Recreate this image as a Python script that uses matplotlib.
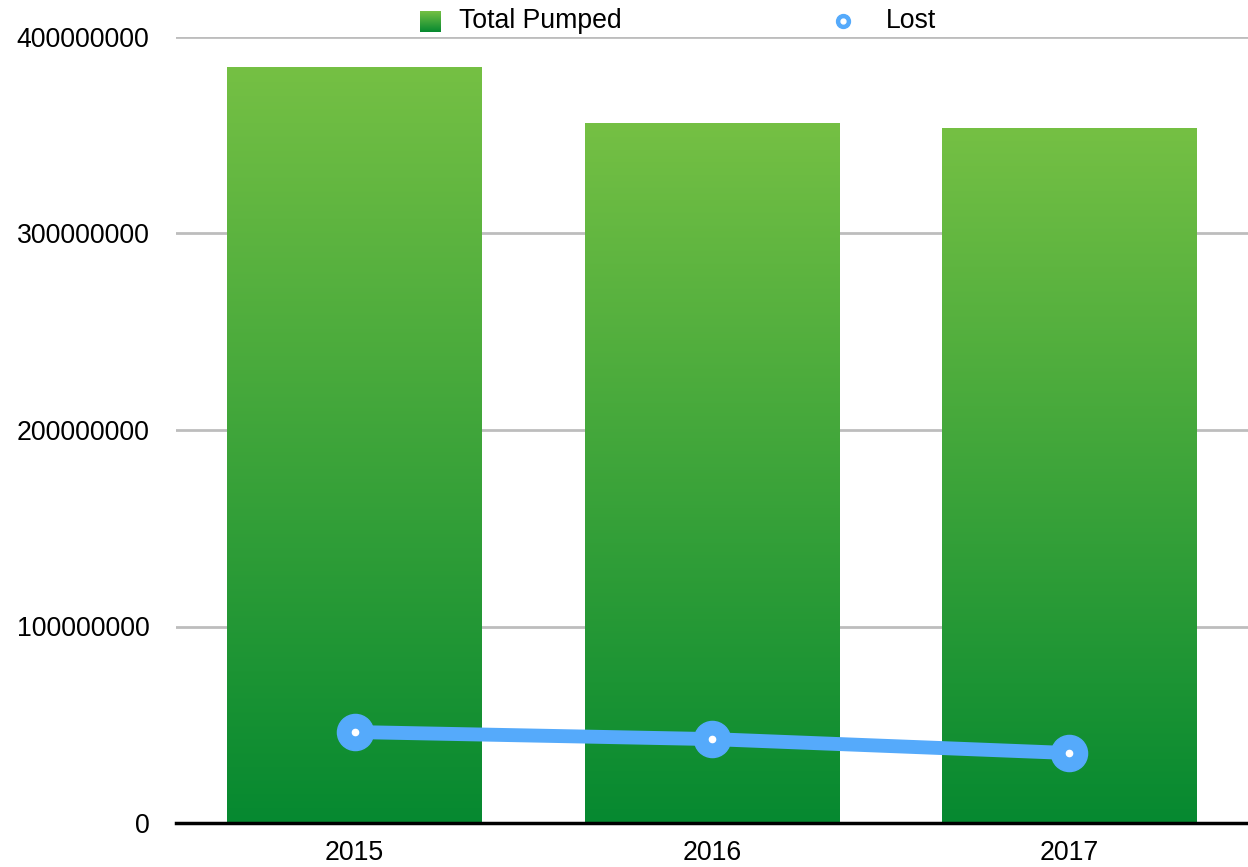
import matplotlib
matplotlib.use("Agg")
import matplotlib.pyplot as plt
import numpy as np
from matplotlib.colors import LinearSegmentedColormap
from matplotlib.lines import Line2D

years = ["2015", "2016", "2017"]
total_pumped = [384700000, 356200000, 353700000]
lost = [46300000, 42700000, 35600000]
yticks = [0, 100000000, 200000000, 300000000, 400000000]

plt.rcParams['font.family'] = ['Liberation Sans', 'DejaVu Sans']

fig = plt.figure(figsize=(12.48, 8.67), dpi=100)
ax = fig.add_axes([176/1248, 44/867, 1 - 176/1248, (823-37)/867])

x = np.arange(len(years))
bars = ax.bar(x, total_pumped, width=0.713, color='none', zorder=2)

cmap = LinearSegmentedColormap.from_list('g', ['#068930', '#75C044'])
grad = np.linspace(0, 1, 256).reshape(-1, 1)
for b in bars:
    bx, by = b.get_x(), b.get_y()
    w, h = b.get_width(), b.get_height()
    im = ax.imshow(grad, cmap=cmap, origin='lower', aspect='auto',
                   extent=[bx, bx + w, by, by + h], zorder=2, interpolation='bilinear')
    im.set_clip_path(b)

ax.plot(x, lost, color='#55AAFB', lw=10, zorder=3, solid_capstyle='round')
ax.plot(x, lost, 'o', ms=26, color='#55AAFB', zorder=4)
ax.plot(x, lost, 'o', ms=4.5, color='white', zorder=5)

ax.set_xlim(-0.5, 2.5)
ax.set_ylim(0, 400000000)
ax.set_yticks(yticks)
ax.set_yticklabels([str(v) for v in yticks], fontsize=19.2)
ax.set_xticks(x)
ax.set_xticklabels(years, fontsize=19.2)
ax.tick_params(axis='both', length=0)
ax.tick_params(axis='y', pad=19)
ax.tick_params(axis='x', pad=12)
ax.yaxis.grid(True, color='#BDBDBD', lw=2)
ax.set_axisbelow(True)
for s in ['top', 'right', 'left']:
    ax.spines[s].set_visible(False)
ax.spines['bottom'].set_linewidth(2.5)
ax.spines['bottom'].set_color('black')
ax.spines['bottom'].set_zorder(6)

# legend
lax = fig.add_axes([420/1248, 1 - 32/867, 21/1248, 21/867])
lax.imshow(grad, cmap=cmap, origin='lower', aspect='auto', extent=[0, 1, 0, 1])
lax.axis('off')
fig.text(459/1248, 1 - 21/867, "Total Pumped", fontsize=19.2, va='center', ha='left')
fig.add_artist(Line2D([843/1248], [1 - 21/867], marker='o', ms=10, color='#55AAFB',
                      transform=fig.transFigure))
fig.add_artist(Line2D([843/1248], [1 - 21/867], marker='o', ms=3.5, color='white',
                      transform=fig.transFigure))
fig.text(886/1248, 1 - 21/867, "Lost", fontsize=19.2, va='center', ha='left')

fig.savefig("out.png", dpi=100)
